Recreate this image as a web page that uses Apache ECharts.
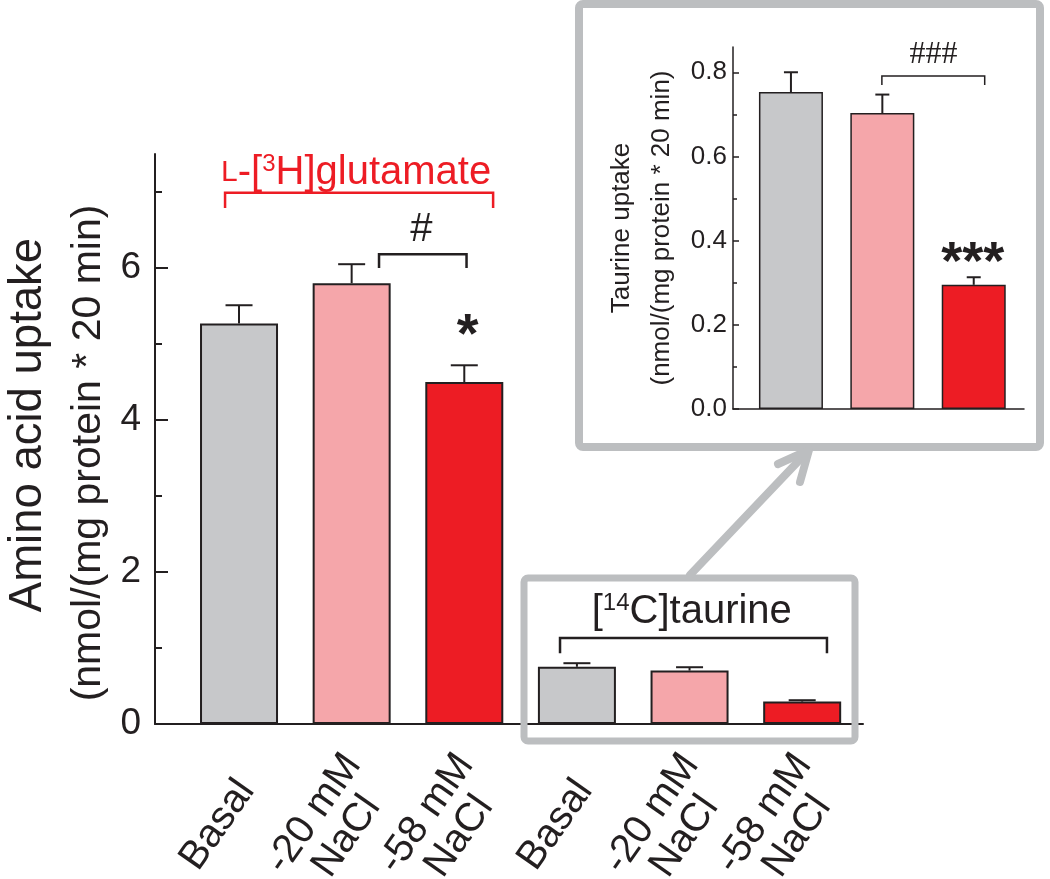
<!DOCTYPE html>
<html><head><meta charset="utf-8">
<script src="https://cdn.jsdelivr.net/npm/echarts@6/dist/echarts.min.js"></script>
<style>html,body{margin:0;padding:0;background:#fff}#c{width:1050px;height:879px}</style>
</head><body><div id="c"></div>
<script>
// ---------- data ----------
const categories = ['Basal', '-20 mM\nNaCl', '-58 mM\nNaCl', 'Basal', '-20 mM\nNaCl', '-58 mM\nNaCl'];
const categoryPos = [1, 2, 3, 4, 5, 6];
const glutamateMean = [5.27, 5.80, 4.50];
const glutamateSem = [0.24, 0.25, 0.22];
const taurineMean = [0.753, 0.703, 0.295];
const taurineSem = [0.047, 0.044, 0.018];
const insetPos = [1, 2, 3];
const mainYTicks = [0, 2, 4, 6];
const mainYMinor = [1, 3, 5, 7];
const insetYTicks = [0, 0.2, 0.4, 0.6, 0.8];
const insetYMinor = [0.1, 0.3, 0.5, 0.7];
// brackets: [xStart, xEnd, yTop, yEnd]
const glutamateBracket = [[0.876, 3.256, 6.99, 6.79]];
const mainBlackBrackets = [[2.243, 3.02, 6.18, 6.0], [3.85, 6.22, 1.13, 0.93]];
const insetBrackets = [[1.995, 3.12, 0.791, 0.770]];
// text annotations: [x, y]
const mainNotePos = [[2.04, 7.25], [2.62, 6.5], [3.03, 5.1], [5.02, 1.47]];
const mainNoteText = ['{sc|L}-[{sup|3}H]glutamate', '#', '*', '[{sup|14}C]taurine'];
const insetNotePos = [[2.56, 0.843], [2.99, 0.345]];
const insetNoteText = ['###', '***'];

// ---------- styles ----------
const FONT = '"Liberation Sans", Arial, Helvetica, sans-serif';
const INK = '#231f20';
const RED = '#ed1c24';
const barColors = ['#c7c8ca', '#f5a6aa', '#ed1c24'];
const BOX = '#bcbec0';
const LABEL_SHIFT = 0.19; // rotated labels sit slightly left of their bar

const chart = echarts.init(document.getElementById('c'), null, {renderer: 'canvas'});

function barData(pos, vals) {
  return vals.map((v, i) => ({value: [pos[i], v], itemStyle: {color: barColors[i % 3]}}));
}
function errData(pos, m, s) {
  return m.map((v, i) => [pos[i], v, v + s[i]]);
}
function errRender(hw) {
  return function (params, api) {
    const p0 = api.coord([api.value(0), api.value(1)]);
    const p1 = api.coord([api.value(0), api.value(2)]);
    return {type: 'group', children: [
      {type: 'line', shape: {x1: p0[0], y1: p0[1], x2: p1[0], y2: p1[1]}, style: {stroke: INK, lineWidth: 2}},
      {type: 'line', shape: {x1: p1[0] - hw, y1: p1[1], x2: p1[0] + hw, y2: p1[1]}, style: {stroke: INK, lineWidth: 2}}
    ]};
  };
}
function bracketRender(color, lw) {
  return function (params, api) {
    const x1 = api.value(0), x2 = api.value(1), yt = api.value(2), ye = api.value(3);
    return {type: 'polyline', shape: {points: [api.coord([x1, ye]), api.coord([x1, yt]), api.coord([x2, yt]), api.coord([x2, ye])]},
      style: {stroke: color, lineWidth: lw, fill: null}};
  };
}
const mainNoteStyle = [
  {fill: RED, font: '40px ' + FONT, rich: {sc: {fontSize: 30, fontFamily: FONT, fill: RED}, sup: {fontSize: 24, fontFamily: FONT, fill: RED, verticalAlign: 'top', lineHeight: 42}}},
  {fill: INK, font: '40px ' + FONT},
  {fill: INK, font: 'bold 56px ' + FONT},
  {fill: INK, font: '40px ' + FONT, rich: {sup: {fontSize: 24, fontFamily: FONT, fill: INK, verticalAlign: 'top', lineHeight: 42}}}
];
const insetNoteStyle = [
  {fill: INK, font: '32px "Liberation Serif", "Times New Roman", serif'},
  {fill: INK, font: 'bold 54px ' + FONT}
];
function noteRender(texts, styles) {
  return function (params, api) {
    const p = api.coord([api.value(0), api.value(1)]);
    const st = Object.assign({text: texts[params.dataIndex], align: 'center', verticalAlign: 'middle'}, styles[params.dataIndex]);
    return {type: 'text', x: p[0], y: p[1], style: st};
  };
}

const option = {
  backgroundColor: '#fff',
  animation: false,
  grid: [
    {left: 155, top: 154, width: 708, height: 570, outerBoundsMode: 'none', containLabel: false},
    {left: 733, top: 47, width: 291, height: 362, outerBoundsMode: 'none', containLabel: false}
  ],
  xAxis: [
    {gridIndex: 0, type: 'value', min: 0.254, max: 6.54,
      axisLine: {show: true, onZero: false, lineStyle: {color: INK, width: 2}},
      axisTick: {show: false}, splitLine: {show: false},
      axisLabel: {customValues: categoryPos.map(p => p - LABEL_SHIFT), formatter: v => categories[Math.round(v) - 1] || '',
        rotate: 55, align: 'center', verticalAlign: 'middle', margin: 101,
        fontFamily: FONT, fontSize: 40, lineHeight: 40, color: INK, hideOverlap: false, showMaxLabel: true, showMinLabel: true}},
    {gridIndex: 1, type: 'value', min: 0.366, max: 3.55,
      axisLine: {show: true, onZero: false, lineStyle: {color: INK, width: 1.5}},
      axisTick: {show: false}, splitLine: {show: false}, axisLabel: {show: false}}
  ],
  yAxis: [
    {gridIndex: 0, type: 'value', position: 'left', min: 0, max: 7.5,
      axisLine: {show: true, lineStyle: {color: INK, width: 2}},
      axisTick: {show: true, inside: true, length: 13, customValues: mainYTicks, lineStyle: {color: INK, width: 2}},
      axisLabel: {customValues: mainYTicks, fontFamily: FONT, fontSize: 37, color: INK, margin: 14},
      splitLine: {show: false},
      name: '{a|Amino acid uptake}\n{b|(nmol/(mg protein * 20 min)}', nameLocation: 'middle', nameRotate: 90, nameGap: 34,
      nameTextStyle: {color: INK, rich: {
        a: {fontFamily: FONT, fontSize: 45.5, lineHeight: 62, color: INK, padding: [0, 0, 0, 28]},
        b: {fontFamily: FONT, fontSize: 41, lineHeight: 60, color: INK, padding: [0, 28, 0, 0]}}}},
    {gridIndex: 0, type: 'value', position: 'left', min: 0, max: 7.5,
      axisLine: {show: false},
      axisTick: {show: true, inside: true, length: 7, customValues: mainYMinor, lineStyle: {color: INK, width: 2}},
      axisLabel: {show: false}, splitLine: {show: false}},
    {gridIndex: 1, type: 'value', position: 'left', min: 0, max: 0.86,
      axisLine: {show: true, lineStyle: {color: INK, width: 1.5}},
      axisTick: {show: true, inside: true, length: 6, customValues: insetYTicks, lineStyle: {color: INK, width: 1.5}},
      axisLabel: {customValues: insetYTicks, formatter: v => v.toFixed(1), fontFamily: FONT, fontSize: 26, color: INK, margin: 6},
      splitLine: {show: false},
      name: 'Taurine uptake\n(nmol/(mg protein * 20 min)', nameLocation: 'middle', nameRotate: 90, nameGap: 51,
      nameTextStyle: {fontFamily: FONT, fontSize: 26, lineHeight: 40, color: INK}},
    {gridIndex: 1, type: 'value', position: 'left', min: 0, max: 0.86,
      axisLine: {show: false},
      axisTick: {show: true, inside: true, length: 4, customValues: insetYMinor, lineStyle: {color: INK, width: 1.5}},
      axisLabel: {show: false}, splitLine: {show: false}}
  ],
  series: [
    {type: 'bar', xAxisIndex: 0, yAxisIndex: 0, barWidth: 78, z: 2,
      itemStyle: {borderColor: INK, borderWidth: 2},
      data: barData(categoryPos.slice(0, 3), glutamateMean).concat(barData(categoryPos.slice(3), taurineMean))},
    {type: 'custom', xAxisIndex: 0, yAxisIndex: 0, z: 3, renderItem: errRender(13.5),
      data: errData(categoryPos.slice(0, 3), glutamateMean, glutamateSem).concat(errData(categoryPos.slice(3), taurineMean, taurineSem))},
    {type: 'custom', xAxisIndex: 0, yAxisIndex: 0, z: 3, renderItem: bracketRender(RED, 2.5), data: glutamateBracket},
    {type: 'custom', xAxisIndex: 0, yAxisIndex: 0, z: 3, renderItem: bracketRender(INK, 2.5), data: mainBlackBrackets},
    {type: 'custom', xAxisIndex: 0, yAxisIndex: 0, z: 4, renderItem: noteRender(mainNoteText, mainNoteStyle), data: mainNotePos},
    {type: 'bar', xAxisIndex: 1, yAxisIndex: 2, barWidth: 64, z: 2,
      itemStyle: {borderColor: INK, borderWidth: 1.5},
      data: barData(insetPos, taurineMean)},
    {type: 'custom', xAxisIndex: 1, yAxisIndex: 2, z: 3, renderItem: errRender(7), data: errData(insetPos, taurineMean, taurineSem)},
    {type: 'custom', xAxisIndex: 1, yAxisIndex: 2, z: 3, renderItem: bracketRender(INK, 1.5), data: insetBrackets},
    {type: 'custom', xAxisIndex: 1, yAxisIndex: 2, z: 4, renderItem: noteRender(insetNoteText, insetNoteStyle), data: insetNotePos}
  ],
  graphic: [
    {type: 'rect', z: 10, shape: {x: 579, y: 4, width: 461, height: 443, r: 4}, style: {fill: null, stroke: BOX, lineWidth: 8}},
    {type: 'rect', z: 10, shape: {x: 524, y: 578, width: 331, height: 163, r: 4}, style: {fill: null, stroke: BOX, lineWidth: 7}},
    {type: 'polyline', z: 10, shape: {points: [[690, 575], [808, 451]]}, style: {stroke: BOX, lineWidth: 8, lineCap: 'round'}},
    {type: 'polyline', z: 10, shape: {points: [[778, 464], [809, 450], [800, 482]]}, style: {stroke: BOX, lineWidth: 8, lineCap: 'round', lineJoin: 'round', fill: null}}
  ]
};
chart.setOption(option);
</script>
</body></html>
